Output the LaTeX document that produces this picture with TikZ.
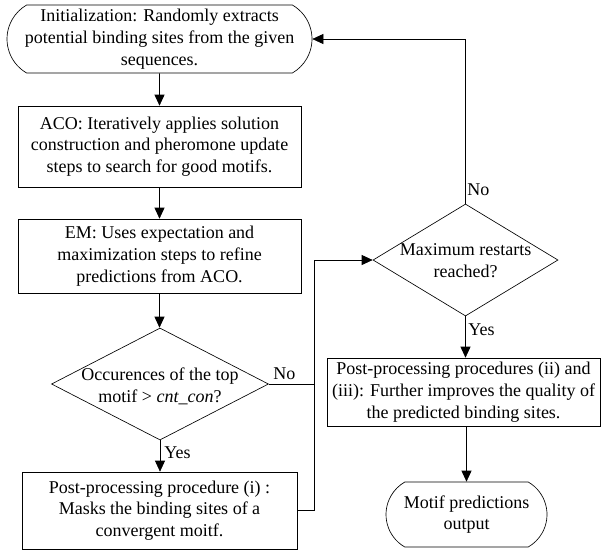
\documentclass[tikz,border=0pt]{standalone}
\usepackage{fontspec}
\setmainfont{Liberation Serif}
\usetikzlibrary{shapes.geometric,shapes.misc,arrows.meta}

\begin{document}
\begin{tikzpicture}[x=1pt,y=-1pt,font=\fontsize{18}{21.7}\selectfont,line width=0.65pt]
			\tikzstyle{terminal}=[draw, rounded rectangle, rounded rectangle arc length=120, align=center, inner sep=0pt]
			\tikzstyle{process}=[draw, align=center, inner sep=0pt]
			\tikzstyle{decision}=[draw, diamond, inner sep=0pt]
			\tikzstyle{answer}=[inner sep=1pt]
			\tikzset{edge/.style = {-{Triangle[length=11pt,width=10pt]}}}
			
			\useasboundingbox (0,0) rectangle (601,550);
			
			\node[terminal, minimum width=305pt, minimum height=68pt](init) at (159.5,39) {Initialization: Randomly extracts\\potential binding sites from the given\\sequences.};
			\node[process, minimum width=283pt, minimum height=81pt](aco) at (159.5,146.5) {ACO: Iteratively applies solution\\construction and pheromone update\\steps to search for good motifs.};
			\node[process, minimum width=283pt, minimum height=74pt](em) at (159.5,256) {EM: Uses expectation and\\maximization steps to refine\\predictions from ACO.};
			\draw[edge](init) to (aco);
			\draw[edge](aco) to (em);
			
			\node[decision, minimum width=217pt, minimum height=112pt](occ) at (160,384) {};
			\node[align=center](occtext) at (160,386) {Occurences of the top\\motif > \textit{cnt\_con}?};
			\draw[edge](em.south) to (em.south |- occ.north);
			
			\node[process, minimum width=275pt, minimum height=77pt](mask) at (159.5,510.5) {Post-processing procedure (i) :\\Masks the binding sites of a\\convergent moitf.};
			\draw[edge](occ.south) to (occ.south |- mask.north);
			\node[answer, anchor=west](yes1) at (163,453) {Yes};
			
			\node[decision, minimum width=185pt, minimum height=112pt](restart) at (465.5,260) {};
			\node[align=center](restarttext) at (465.5,261) {Maximum restarts\\reached?};
			
			\coordinate (join) at (314,384);
			\draw(occ.east) to (join);
			\node[answer, anchor=west](no1) at (272,374) {No};
			\draw[edge](mask.east) -- (mask.east -| join) -- (join |- restart.west) -- (restart.west);
			
			\draw[edge](restart.north) |- (init.east);
			\node[answer, anchor=west](no2) at (466,190) {No};
			
			\node[process, minimum width=273pt, minimum height=68pt](improve) at (463.5,392) {Post-processing procedures (ii) and\\(iii): Further improves the quality of\\the predicted binding sites.};
			\draw[edge](restart.south) to (restart.south |- improve.north);
			\node[answer, anchor=west](yes2) at (467,330) {Yes};
			
			\node[terminal, minimum width=161pt, minimum height=65pt](output) at (466.5,514.5) {Motif predictions\\output};
			\draw[edge](improve.south -| output.north) to (output.north);
			
\end{tikzpicture}
\end{document}
